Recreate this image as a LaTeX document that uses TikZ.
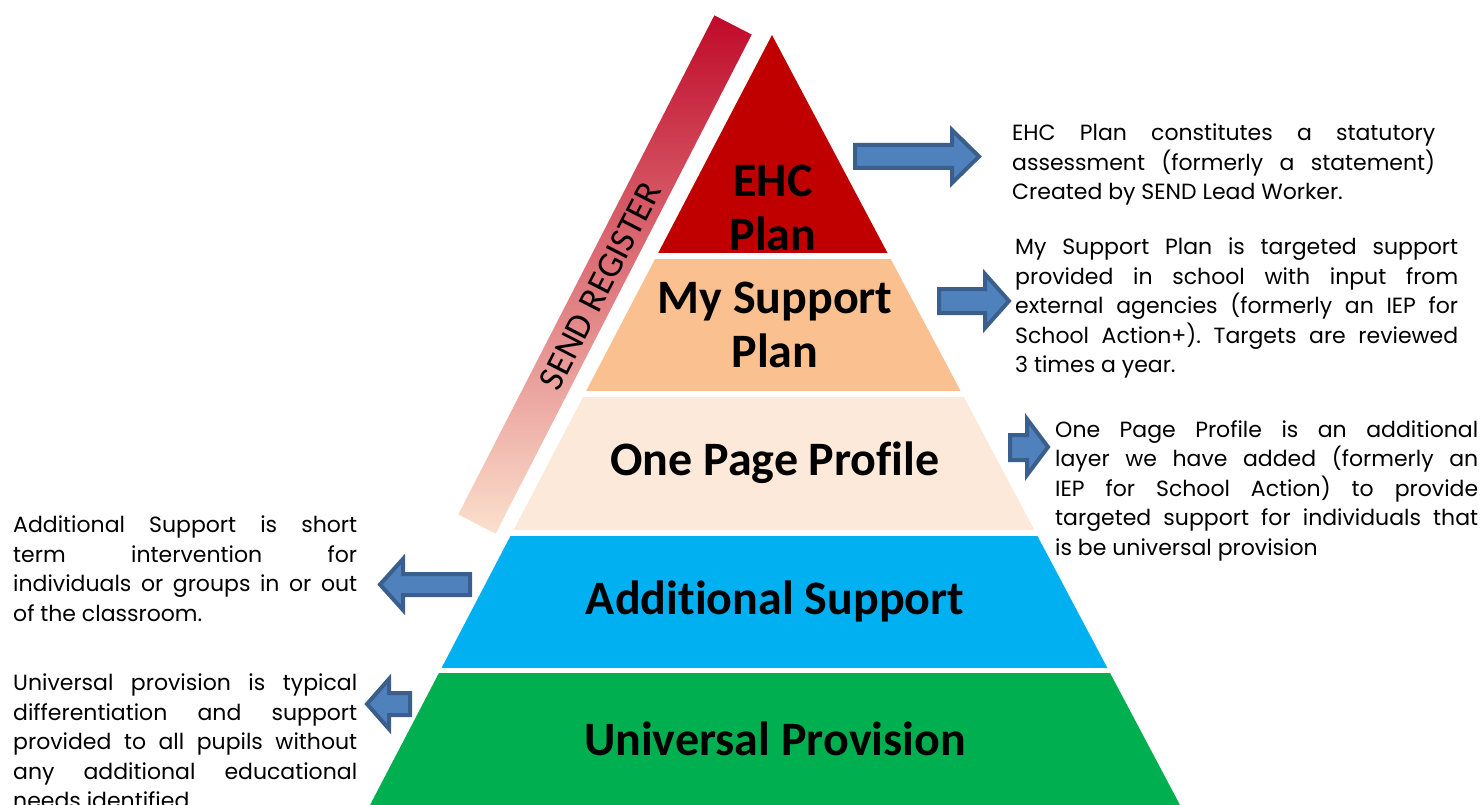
\documentclass[tikz,border=0pt]{standalone}
\usepackage{fontspec}
\setmainfont{Poppins}
\newfontfamily\tierfont[Ligatures={NoCommon,NoContextual,NoRare}]{Carlito}
\frenchspacing
\definecolor{ehcred}{HTML}{C00000}
\definecolor{supportpeach}{HTML}{FAC090}
\definecolor{profilecream}{HTML}{FDE9D9}
\definecolor{additionalblue}{HTML}{00B0F0}
\definecolor{universalgreen}{HTML}{00B050}
\definecolor{arrowblue}{HTML}{4F81BD}
\definecolor{arrowedge}{HTML}{3A5F8C}
\definecolor{registertop}{HTML}{C00A2A}
\definecolor{registermid}{HTML}{F2A074}
\definecolor{registerbottom}{HTML}{FBE0CC}
\tikzset{
x=1pt, y=-1pt, % pixel grid of the original slide
tier/.style={font=\tierfont\bfseries\fontsize{48}{54}\selectfont, align=center, inner sep=0pt}, % labels on the pyramid
note/.style={font=\fontsize{22}{29.5}\selectfont, align=justify, inner sep=0pt, anchor=north west}, % side texts
blockarrow/.style={fill=arrowblue, draw=arrowedge, line width=4pt, line join=miter}, % fat blue arrows
}
\begin{document}
\begin{tikzpicture}
\useasboundingbox (0,0) rectangle (1483,805);
% pyramid bands
\begin{scope}
\clip (772,35) -- (370,805) -- (1180,805) -- cycle;
\fill[ehcred] (300,35) rectangle (1250,253);
\fill[supportpeach] (300,259) rectangle (1250,391);
\fill[profilecream] (300,397) rectangle (1250,530);
\fill[additionalblue] (300,536) rectangle (1250,668);
\fill[universalgreen] (300,673) rectangle (1250,805);
\end{scope}
\node[tier] (ehc) at (773,208) {EHC\\Plan};
\node[tier] (support) at (775,325) {My Support\\Plan};
\node[tier] (profile) at (775,463) {One Page Profile};
\node[tier] (additional) at (775,601) {Additional Support};
\node[tier] (universal) at (775,739) {Universal Provision};
% register bar
\begin{scope}[shift={(605,274.5)}, rotate=-27.16]
\shade[top color=registertop, middle color=registermid, bottom color=registerbottom] (-21,-280.5) rectangle (21,280.5);
\end{scope}
\node[font=\tierfont\fontsize{36}{40}\selectfont, rotate=62.84] (register) at (600,286) {SEND REGISTER};
% arrows
\draw[blockarrow] (855,145) -- (952,145) -- (952,130) -- (979,156.5) -- (952,183) -- (952,168) -- (855,168) -- cycle;
\draw[blockarrow] (939,289) -- (985,289) -- (985,274) -- (1009,301) -- (985,328) -- (985,313) -- (939,313) -- cycle;
\draw[blockarrow] (1010,435) -- (1027,435) -- (1027,419) -- (1048,447) -- (1027,475) -- (1027,460) -- (1010,460) -- cycle;
\draw[blockarrow] (470,574) -- (403,574) -- (403,559) -- (380,584.5) -- (403,610) -- (403,595) -- (470,595) -- cycle;
\draw[blockarrow] (410,693) -- (389,693) -- (389,679) -- (367,704) -- (389,729) -- (389,715) -- (410,715) -- cycle;
% side texts
\node[note, text width=423] (ehcnote) at (1012,124) {EHC Plan constitutes a statutory\linebreak assessment (formerly a statement)\linebreak Created by SEND Lead Worker.};
\node[note, text width=443] (supportnote) at (1015,238) {My Support Plan is targeted support\linebreak provided in school with input from\linebreak external agencies (formerly an IEP for\linebreak School Action+). Targets are reviewed\linebreak 3 times a year.};
\node[note, text width=423] (profilenote) at (1055,420) {One Page Profile is an additional\linebreak layer we have added (formerly an\linebreak IEP for School Action) to provide\linebreak targeted support for individuals that\linebreak is be universal provision};
\node[note, text width=344] (additionalnote) at (13,516) {Additional Support is short\linebreak term intervention for\linebreak individuals or groups in or out\linebreak of the classroom.};
\node[note, text width=344] (universalnote) at (13,674) {Universal provision is typical\linebreak differentiation and support\linebreak provided to all pupils without\linebreak any additional educational\linebreak needs identified.};
\end{tikzpicture}
\end{document}
